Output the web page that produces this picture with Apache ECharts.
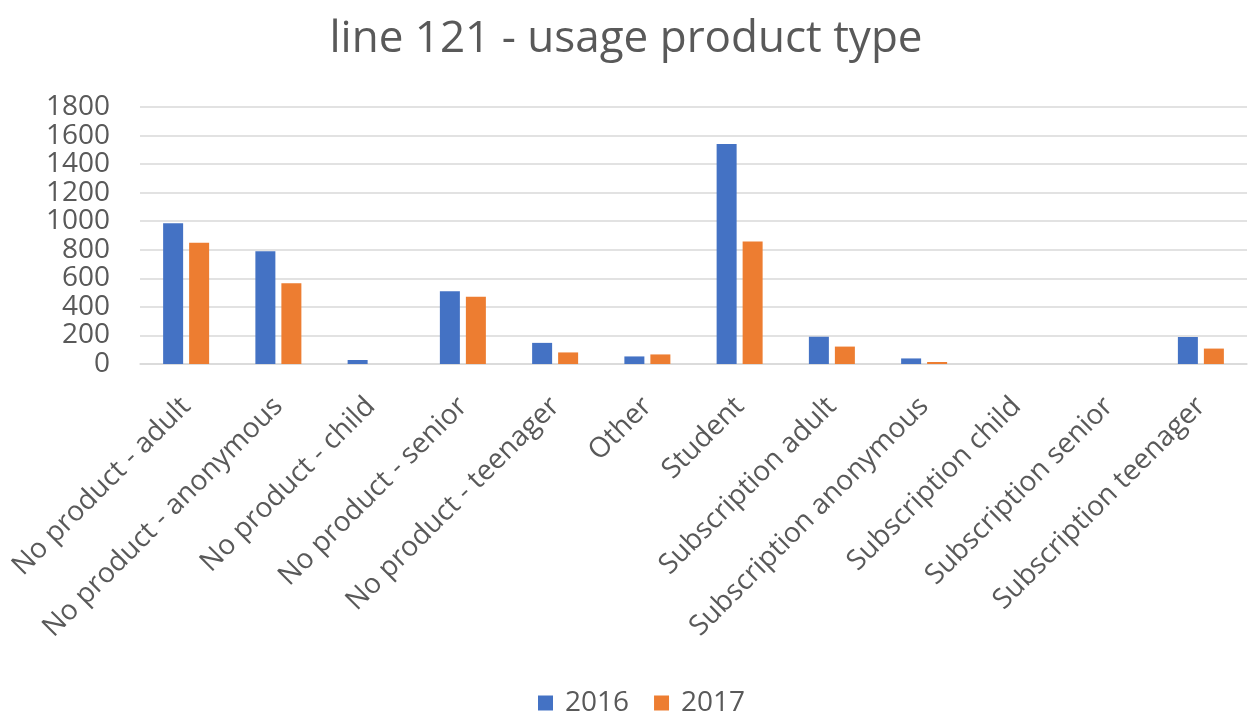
<!DOCTYPE html>
<html>
<head>
<meta charset="utf-8">
<script src="https://cdn.jsdelivr.net/npm/echarts@6/dist/echarts.min.js"></script>
<style>
  html, body { margin: 0; padding: 0; background: #ffffff; }
  #chart { width: 1252px; height: 716px; }
</style>
</head>
<body>
<div id="chart"></div>
<script>
// Usage counts per product type, by year
const categories = [
  'No product - adult', 'No product - anonymous', 'No product - child',
  'No product - senior', 'No product - teenager', 'Other', 'Student',
  'Subscription adult', 'Subscription anonymous', 'Subscription child',
  'Subscription senior', 'Subscription teenager'
];
const seriesNames = ['2016', '2017'];
const values2016 = [985, 790, 28, 510, 148, 53, 1541, 191, 39, 0, 0, 189];
const values2017 = [850, 565, 0, 471, 81, 67, 858, 122, 14, 0, 0, 108];

const FONT = '"Open Sans", "Noto Sans", sans-serif';
const TEXT = '#595959';
const GRID = '#d9d9d9';

const chart = echarts.init(document.getElementById('chart'), null, { renderer: 'canvas' });
chart.setOption({
  backgroundColor: '#ffffff',
  animation: false,
  title: {
    text: 'line 121 - usage product type',
    left: 'center',
    top: 12,
    textStyle: { fontFamily: FONT, fontSize: 44, fontWeight: 'normal', color: TEXT }
  },
  legend: {
    data: seriesNames,
    top: 684,
    left: 533,
    itemWidth: 15,
    itemHeight: 15,
    itemGap: 25,
    icon: 'rect',
    textStyle: { fontFamily: FONT, fontSize: 28, color: TEXT, padding: [0, 0, 0, 7] }
  },
  grid: { left: 140, right: 5, top: 107, bottom: 352, containLabel: false },
  xAxis: {
    type: 'category',
    data: categories,
    axisLine: { show: true, lineStyle: { color: GRID, width: 1.5 } },
    axisTick: { show: false },
    axisLabel: {
      interval: 0,
      rotate: 45,
      margin: 38,
      fontFamily: FONT,
      fontSize: 28,
      color: TEXT
    }
  },
  yAxis: {
    type: 'value',
    min: 0,
    max: 1800,
    interval: 200,
    axisLine: { show: false },
    axisTick: { show: false },
    splitLine: { lineStyle: { color: GRID, width: 1.5 } },
    axisLabel: {
      margin: 30,
      fontFamily: FONT,
      fontSize: 28,
      color: TEXT,
      formatter: (v) => String(v)
    }
  },
  series: [
    {
      name: seriesNames[0],
      type: 'bar',
      data: values2016,
      barWidth: 20,
      barGap: '30%',
      itemStyle: { color: '#4472C4' }
    },
    {
      name: seriesNames[1],
      type: 'bar',
      data: values2017,
      barWidth: 20,
      barGap: '30%',
      itemStyle: { color: '#ED7D31' }
    }
  ]
});
</script>
</body>
</html>
